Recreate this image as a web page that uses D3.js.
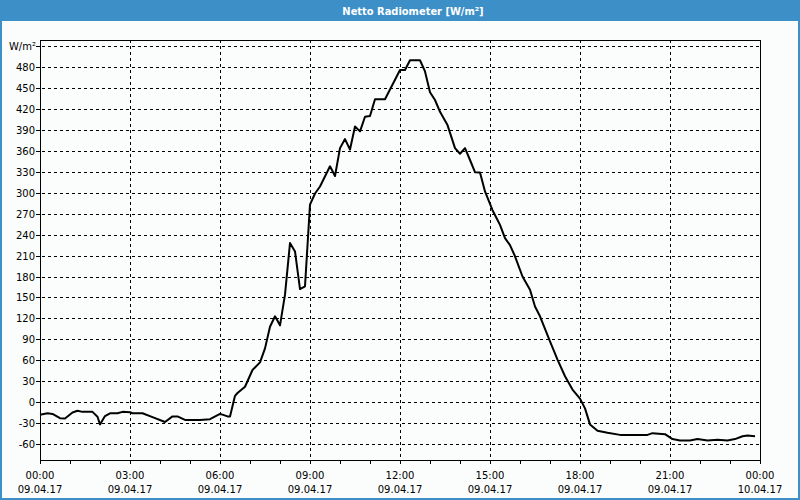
<!DOCTYPE html>
<html>
<head>
<meta charset="utf-8">
<script src="https://cdn.jsdelivr.net/npm/d3@7"></script>
<style>
  html, body { margin: 0; padding: 0; background: #fbfdfc; }
  svg { display: block; }
</style>
</head>
<body>
<svg id="chart" width="800" height="500"></svg>
<script>
// ---- data ----
const title = "Netto Radiometer [W/m²]";
const unitLabel = "W/m²";
const times = ["00:00","00:15","00:25","00:40","00:50","01:05","01:15","01:25","01:45","01:55",
  "02:00","02:10","02:20","02:35","02:45","03:00","03:05","03:25","03:45","04:10",
  "04:25","04:35","04:50","05:20","05:40","06:00","06:05","06:15","06:20","06:30",
  "06:35","06:50","07:05","07:20","07:30","07:40","07:50","08:00","08:10","08:20",
  "08:30","08:40","08:50","09:00","09:10","09:20","09:40","09:50","10:00","10:10",
  "10:20","10:30","10:40","10:50","11:00","11:10","11:30","11:40","12:00","12:10",
  "12:20","12:40","12:50","13:00","13:10","13:20","13:35","13:50","14:00","14:10",
  "14:20","14:30","14:40","14:50","15:05","15:15","15:20","15:30","15:40","15:50",
  "16:05","16:20","16:30","16:40","17:00","17:15","17:30","17:45","18:00","18:10",
  "18:20","18:35","18:55","19:20","20:15","20:25","20:50","21:05","21:20","21:40",
  "21:55","22:15","22:35","22:55","23:10","23:25","23:35","23:50"];
const values = [-18,-16,-17,-23,-23.5,-15,-12.5,-14,-14,-21,
  -32,-20,-16,-16,-14,-14.5,-16,-16,-21.5,-28.5,
  -20.5,-20.5,-25.5,-25.5,-24.5,-17,-18,-20.5,-20.5,9,
  13,22,46,57,77,108,123,110,154,228,
  216,162,166,283,299,309,338,324,364,377,
  362,395,388,409,410,434,434,448,476,476,
  490,490,474,444,433,416,397,364,356,364,
  347,329.5,329,302,275,261,254,235,225,209,
  180,161,137,123,87,61,37,18,5,-9,
  -32,-41,-44,-47,-47,-44.5,-46,-53,-55,-55,
  -53,-55,-54,-55,-53,-49,-48,-49];
const yTicks = [-60,-30,0,30,60,90,120,150,180,210,240,270,300,330,360,390,420,450,480];
const yUnitValue = 510;
const xTickLabels = ["00:00","03:00","06:00","09:00","12:00","15:00","18:00","21:00","00:00"];
const xDateLabels = ["09.04.17","09.04.17","09.04.17","09.04.17","09.04.17","09.04.17","09.04.17","09.04.17","10.04.17"];
const xTickHours = [0,3,6,9,12,15,18,21,24];
const xMinorHours = d3.range(0, 25, 1);

// ---- layout ----
const W = 800, H = 500;
const pLeft = 40, pRight = 760, pTop = 40, pBottom = 460;
const blue = "#3c8fc7";
const font = "DejaVu Sans, Verdana, sans-serif";

const svg = d3.select("#chart");

const toHours = t => { const [h, m] = t.split(":").map(Number); return h + m / 60; };
const data = times.map((t, i) => ({ h: toHours(t), v: values[i] }));

const x = d3.scaleLinear().domain([0, 24]).range([pLeft, pRight]);
const y = d3.scaleLinear().domain([-83, 519]).range([pBottom, pTop]);

// window frame
svg.append("rect").attr("x", 0).attr("y", 0).attr("width", W).attr("height", H).attr("fill", "#fbfdfc");
svg.append("rect").attr("x", 0).attr("y", 0).attr("width", W).attr("height", 21).attr("fill", blue);
svg.append("rect").attr("x", 1).attr("y", 1).attr("width", W - 2).attr("height", H - 2)
  .attr("fill", "none").attr("stroke", blue).attr("stroke-width", 2).attr("shape-rendering", "crispEdges");
svg.append("text").attr("x", 413).attr("y", 15).attr("text-anchor", "middle")
  .attr("fill", "#ffffff").attr("font-family", "DejaVu Sans Condensed, DejaVu Sans, sans-serif")
  .attr("font-weight", "bold").attr("font-size", 11).text(title);

// gridlines (horizontal)
const gridY = yTicks.concat([yUnitValue]);
svg.append("g").selectAll("line").data(gridY).join("line")
  .attr("x1", pLeft - 4).attr("x2", pRight)
  .attr("y1", d => Math.round(y(d)) + 0.5).attr("y2", d => Math.round(y(d)) + 0.5)
  .attr("stroke", "#000").attr("stroke-width", 1).attr("stroke-dasharray", "3,3")
  .attr("shape-rendering", "crispEdges");
svg.append("g").selectAll("line").data(gridY).join("line")
  .attr("x1", pLeft - 4).attr("x2", pLeft)
  .attr("y1", d => Math.round(y(d)) + 0.5).attr("y2", d => Math.round(y(d)) + 0.5)
  .attr("stroke", "#000").attr("stroke-width", 1).attr("shape-rendering", "crispEdges");

// gridlines (vertical)
svg.append("g").selectAll("line").data(xTickHours.slice(1, -1)).join("line")
  .attr("x1", d => Math.round(x(d)) + 0.5).attr("x2", d => Math.round(x(d)) + 0.5)
  .attr("y1", pTop).attr("y2", pBottom)
  .attr("stroke", "#000").attr("stroke-width", 1).attr("stroke-dasharray", "3,3")
  .attr("shape-rendering", "crispEdges");

// x minor ticks
svg.append("g").selectAll("line").data(xMinorHours).join("line")
  .attr("x1", d => Math.round(x(d)) + 0.5).attr("x2", d => Math.round(x(d)) + 0.5)
  .attr("y1", pBottom).attr("y2", pBottom + 4)
  .attr("stroke", "#000").attr("stroke-width", 1).attr("shape-rendering", "crispEdges");

// plot frame
svg.append("rect").attr("x", pLeft + 0.5).attr("y", pTop + 0.5)
  .attr("width", pRight - pLeft).attr("height", pBottom - pTop)
  .attr("fill", "none").attr("stroke", "#000").attr("stroke-width", 1).attr("shape-rendering", "crispEdges");

// y labels
svg.append("g").selectAll("text").data(yTicks).join("text")
  .attr("x", 35).attr("y", d => y(d) + 4).attr("text-anchor", "end")
  .attr("font-family", font).attr("font-size", 10).attr("fill", "#000")
  .text(d => d);
svg.append("text").attr("x", 36).attr("y", y(yUnitValue) + 4).attr("text-anchor", "end")
  .attr("font-family", font).attr("font-size", 10).attr("fill", "#000").text(unitLabel);

// x labels
const xl = svg.append("g");
xl.selectAll("text.t").data(xTickHours).join("text").attr("class", "t")
  .attr("x", d => x(d)).attr("y", 479).attr("text-anchor", "middle")
  .attr("font-family", font).attr("font-size", 10).attr("fill", "#000")
  .text((d, i) => xTickLabels[i]);
xl.selectAll("text.d").data(xTickHours).join("text").attr("class", "d")
  .attr("x", d => x(d)).attr("y", 493).attr("text-anchor", "middle")
  .attr("font-family", font).attr("font-size", 10).attr("fill", "#000")
  .text((d, i) => xDateLabels[i]);

// data line
const line = d3.line().x(d => x(d.h)).y(d => y(d.v));
svg.append("path").datum(data).attr("d", line)
  .attr("fill", "none").attr("stroke", "#000").attr("stroke-width", 2)
  .attr("stroke-linejoin", "round");
</script>
</body>
</html>
